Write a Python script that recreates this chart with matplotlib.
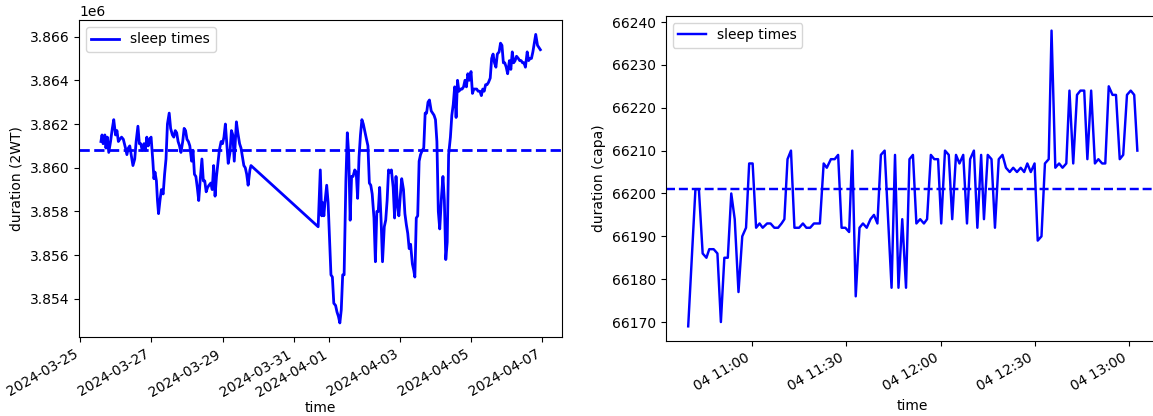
import matplotlib
matplotlib.use('Agg')
import matplotlib.pyplot as plt
import pandas as pd

# Left panel: 2WT sleep durations, time in days after 2024-03-25 00:00, values in units of 1e6
left_days = [0.58, 0.61, 0.64, 0.69, 0.72, 0.76, 0.80, 0.85, 0.90, 0.94, 0.99, 1.03, 1.07, 1.11, 1.16,
             1.21, 1.27, 1.31, 1.35, 1.39, 1.44, 1.48, 1.53, 1.57, 1.62, 1.66, 1.70, 1.74, 1.79, 1.83,
             1.87, 1.91, 1.95, 1.99, 2.04, 2.07, 2.10, 2.14, 2.17, 2.20, 2.24, 2.28, 2.33, 2.37, 2.41,
             2.45, 2.50, 2.54, 2.59, 2.63, 2.67, 2.71, 2.75, 2.79, 2.83, 2.88, 2.92, 2.96, 3.00, 3.04,
             3.08, 3.13, 3.17, 3.21, 3.25, 3.29, 3.33, 3.37, 3.42, 3.46, 3.50, 3.54, 3.58, 3.62, 3.67,
             3.71, 3.75, 3.79, 3.83, 3.87, 3.91, 3.96, 4.00, 4.04, 4.08, 4.12, 4.16, 4.21, 4.25, 4.29,
             4.33, 4.39, 4.43, 4.48, 4.52, 4.56, 4.60, 4.64, 4.68, 4.72, 4.77, 4.80,
             6.69, 6.75, 6.79, 6.82, 6.85, 6.88, 6.93, 6.97, 7.01, 7.05, 7.09, 7.13, 7.18, 7.22, 7.26,
             7.30, 7.34, 7.38, 7.42, 7.47, 7.51, 7.55, 7.59, 7.63, 7.67, 7.72, 7.76, 7.80, 7.84, 7.88,
             7.92, 7.96, 8.01, 8.05, 8.09, 8.13, 8.17, 8.21, 8.26, 8.30, 8.34, 8.38, 8.42, 8.46, 8.50,
             8.55, 8.59, 8.63, 8.67, 8.71, 8.75, 8.80, 8.84, 8.88, 8.92, 8.96, 9.00, 9.04, 9.09, 9.13,
             9.17, 9.21, 9.25, 9.29, 9.34, 9.38, 9.41, 9.45, 9.49, 9.53, 9.57, 9.62, 9.66, 9.70, 9.74,
             9.78, 9.82, 9.87, 9.91, 9.95, 9.99, 10.03, 10.07, 10.11, 10.16, 10.20, 10.24, 10.28, 10.32,
             10.36, 10.41, 10.45, 10.49, 10.53, 10.57, 10.61, 10.65, 10.70, 10.74, 10.78, 10.82, 10.86,
             10.90, 10.94, 10.99, 11.03, 11.07, 11.11, 11.15, 11.19, 11.24, 11.28, 11.32, 11.36, 11.40,
             11.44, 11.48, 11.53, 11.57, 11.61, 11.65, 11.69, 11.73, 11.78, 11.82, 11.86, 11.90, 11.94,
             11.98, 12.02, 12.07, 12.11, 12.15, 12.19, 12.23, 12.27, 12.32, 12.36, 12.40, 12.44, 12.48,
             12.52, 12.57, 12.61, 12.65, 12.69, 12.73, 12.77, 12.81, 12.86, 12.90, 12.94]
left_vals = [3.8612, 3.8615, 3.8611, 3.8615, 3.8609, 3.8614, 3.8607, 3.8612, 3.8618, 3.8622, 3.8615,
             3.8617, 3.8612, 3.8613, 3.8614, 3.8613, 3.8609, 3.8606, 3.8609, 3.8610, 3.8605, 3.8601,
             3.8604, 3.8612, 3.8619, 3.8611, 3.8611, 3.8608, 3.8611, 3.8608, 3.8614, 3.8610, 3.8613,
             3.8614, 3.8603, 3.8595, 3.8598, 3.8594, 3.8585, 3.8579, 3.8585, 3.8590, 3.8588, 3.8597,
             3.8604, 3.8620, 3.8625, 3.8618, 3.8615, 3.8614, 3.8617, 3.8616, 3.8612, 3.8610, 3.8607,
             3.8612, 3.8618, 3.8617, 3.8613, 3.8612, 3.8610, 3.8603, 3.8608, 3.8597, 3.8596, 3.8591,
             3.8585, 3.8594, 3.8604, 3.8594, 3.8594, 3.8589, 3.8591, 3.8592, 3.8593, 3.8590, 3.8601,
             3.8587, 3.8596, 3.8602, 3.8608, 3.8612, 3.8611, 3.8614, 3.8620, 3.8611, 3.8602, 3.8607,
             3.8617, 3.8615, 3.8603, 3.8621, 3.8616, 3.8611, 3.8609, 3.8605, 3.8601, 3.8600, 3.8597,
             3.8592, 3.8599, 3.8601,
             3.8573, 3.8599, 3.8578, 3.8584, 3.8578, 3.8584, 3.8592, 3.8584, 3.8568, 3.8551, 3.8550,
             3.8538, 3.8537, 3.8534, 3.8532, 3.8529, 3.8535, 3.8551, 3.8551, 3.8594, 3.8616, 3.8606,
             3.8576, 3.8596, 3.8596, 3.8599, 3.8598, 3.8586, 3.8605, 3.8615, 3.8622, 3.8620, 3.8616,
             3.8613, 3.8610, 3.8593, 3.8592, 3.8588, 3.8577, 3.8557, 3.8580, 3.8580, 3.8591, 3.8576,
             3.8557, 3.8573, 3.8576, 3.8585, 3.8599, 3.8598, 3.8599, 3.8591, 3.8577, 3.8596, 3.8583,
             3.8578, 3.8587, 3.8595, 3.8590, 3.8579, 3.8574, 3.8570, 3.8563, 3.8565, 3.8556, 3.8553,
             3.8550, 3.8577, 3.8578, 3.8603, 3.8606, 3.8608, 3.8609, 3.8625, 3.8625, 3.8630, 3.8631,
             3.8626, 3.8625, 3.8624, 3.8622, 3.8612, 3.8580, 3.8572, 3.8587, 3.8596, 3.8585, 3.8558,
             3.8566, 3.8606, 3.8614, 3.8624, 3.8629, 3.8637, 3.8623, 3.8640, 3.8635, 3.8636, 3.8636,
             3.8637, 3.8640, 3.8637, 3.8643, 3.8640, 3.8644, 3.8634, 3.8636, 3.8636, 3.8636, 3.8635,
             3.8635, 3.8633, 3.8636, 3.8635, 3.8638, 3.8638, 3.8639, 3.8641, 3.8650, 3.8652, 3.8648,
             3.8646, 3.8652, 3.8653, 3.8657, 3.8656, 3.8648, 3.8648, 3.8646, 3.8643, 3.8649, 3.8645,
             3.8653, 3.8648, 3.8649, 3.8651, 3.8650, 3.8649, 3.8649, 3.8648, 3.8648, 3.8646, 3.8653,
             3.8649, 3.8650, 3.8650, 3.8653, 3.8657, 3.8661, 3.8656, 3.8655, 3.8654]
left_mean = 3.86080

# Right panel: capa sleep durations, time in minutes after 2024-04-04 11:00
right_minutes = [-20.3, -18.0, -16.9, -15.7, -14.5, -13.6, -12.2, -11.0, -9.9, -8.8, -7.7, -6.6, -5.5,
                 -4.3, -3.1, -1.9, -0.9, 0.2, 1.3, 2.4, 3.4, 4.8, 5.9, 7.1, 8.3, 9.4, 10.3, 11.3, 12.4,
                 13.5, 15.0, 16.2, 17.3, 18.5, 19.7, 21.6, 22.8, 23.8, 25.1, 26.3, 27.4, 28.5, 29.7,
                 30.9, 31.9, 33.0, 34.2, 35.3, 36.5, 37.7, 38.8, 39.9, 41.0, 42.2, 44.4, 45.5, 46.6,
                 47.8, 49.0, 50.1, 51.2, 52.3, 53.5, 54.7, 55.7, 56.9, 58.0, 59.2, 60.2, 61.4, 62.6,
                 63.7, 64.9, 66.0, 67.2, 68.4, 69.4, 70.6, 71.7, 72.9, 73.8, 75.0, 76.2, 77.3, 78.5,
                 79.7, 80.8, 82.0, 83.1, 84.3, 85.5, 86.6, 87.6, 88.7, 89.9, 90.9, 92.1, 93.2, 94.4,
                 95.3, 96.5, 97.7, 98.8, 100.0, 101.0, 102.2, 103.4, 104.5, 105.7, 106.7, 107.9,
                 109.1, 110.2, 111.4, 112.4, 113.5, 114.7, 115.8, 117.0, 118.1, 119.3, 120.5, 121.6,
                 122.6]
right_vals = [66169, 66201, 66201, 66186, 66185, 66187, 66187, 66186, 66170, 66185, 66185, 66200, 66194,
              66177, 66190, 66192, 66207, 66207, 66192, 66193, 66192, 66193, 66193, 66192, 66192, 66193,
              66194, 66208, 66210, 66192, 66192, 66193, 66192, 66192, 66193, 66193, 66207, 66206, 66208,
              66208, 66209, 66192, 66192, 66191, 66210, 66176, 66192, 66193, 66192, 66194, 66195, 66193,
              66209, 66210, 66178, 66209, 66178, 66194, 66178, 66208, 66209, 66193, 66194, 66193, 66194,
              66209, 66208, 66208, 66193, 66210, 66209, 66194, 66209, 66207, 66209, 66193, 66208, 66210,
              66192, 66209, 66194, 66209, 66208, 66192, 66208, 66209, 66206, 66205, 66206, 66205, 66206,
              66205, 66207, 66205, 66207, 66189, 66190, 66207, 66208, 66238, 66206, 66207, 66206, 66207,
              66224, 66207, 66223, 66224, 66224, 66208, 66224, 66207, 66208, 66207, 66207, 66225, 66223,
              66223, 66208, 66209, 66223, 66224, 66223, 66210]
right_mean = 66201

left_times = pd.Timestamp('2024-03-25') + pd.to_timedelta(left_days, unit='D')
right_times = pd.Timestamp('2024-04-04 11:00') + pd.to_timedelta(right_minutes, unit='min')

fig = plt.figure(figsize=(11.53, 4.16), dpi=100)
ax1 = fig.add_axes([0.0685, 0.189, 0.4192, 0.763])
ax2 = fig.add_axes([0.5774, 0.180, 0.4285, 0.782])

# Left plot
ax1.plot(left_times, [v * 1e6 for v in left_vals], color='blue', linewidth=2, label='sleep times')
ax1.axhline(left_mean * 1e6, color='blue', linestyle='--', linewidth=2)
ax1.set_xlabel('time', labelpad=1)
ax1.set_ylabel('duration (2WT)')
ax1.legend(loc='upper left')
plt.setp(ax1.get_xticklabels(), rotation=30, ha='right')

# Right plot
ax2.plot(right_times, right_vals, color='blue', linewidth=1.75, label='sleep times')
ax2.axhline(right_mean, color='blue', linestyle='--', linewidth=1.75)
ax2.set_xlabel('time')
ax2.set_ylabel('duration (capa)')
ax2.legend(loc='upper left')
plt.setp(ax2.get_xticklabels(), rotation=30, ha='right')

plt.savefig('out.png', dpi=100)
